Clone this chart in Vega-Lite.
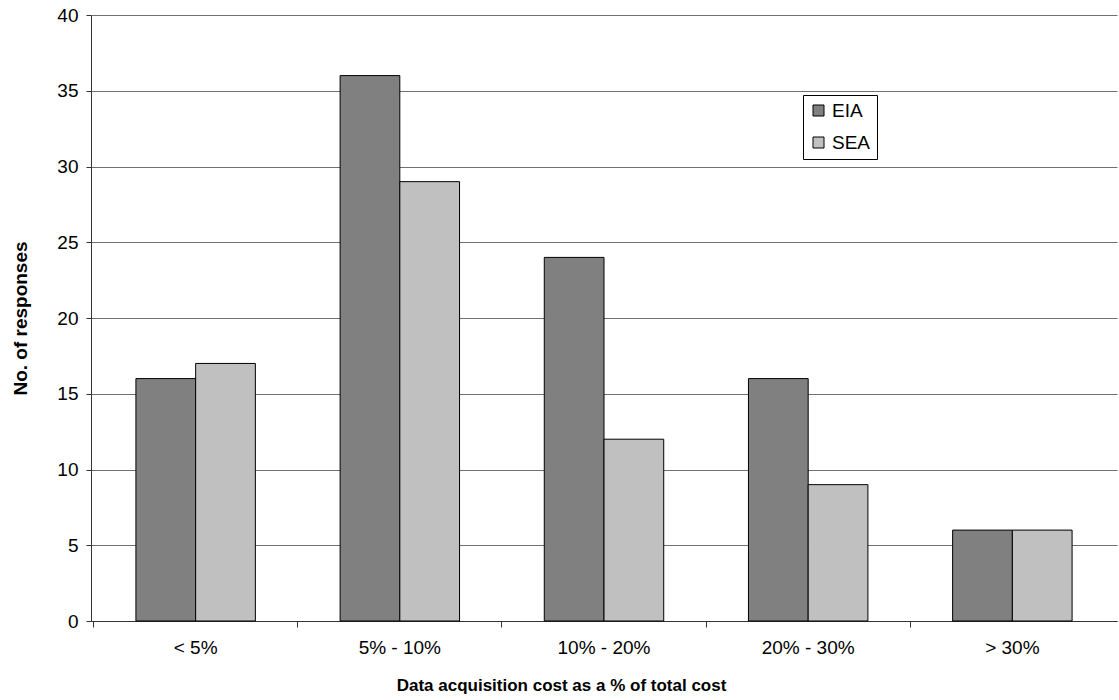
{
  "$schema": "https://vega.github.io/schema/vega-lite/v6.json",
  "autosize": "none",
  "width": 1026,
  "height": 606,
  "padding": {"left": 91, "top": 15, "right": 2, "bottom": 79},
  "background": "white",
  "config": {
    "font": "Liberation Sans",
    "view": {"stroke": null}
  },
  "data": {
    "values": [
      {"cost": "< 5%", "type": "EIA", "n": 16},
      {"cost": "< 5%", "type": "SEA", "n": 17},
      {"cost": "5% - 10%", "type": "EIA", "n": 36},
      {"cost": "5% - 10%", "type": "SEA", "n": 29},
      {"cost": "10% - 20%", "type": "EIA", "n": 24},
      {"cost": "10% - 20%", "type": "SEA", "n": 12},
      {"cost": "20% - 30%", "type": "EIA", "n": 16},
      {"cost": "20% - 30%", "type": "SEA", "n": 9},
      {"cost": "> 30%", "type": "EIA", "n": 6},
      {"cost": "> 30%", "type": "SEA", "n": 6}
    ]
  },
  "mark": {"type": "bar", "stroke": "black", "strokeWidth": 1},
  "encoding": {
    "x": {
      "field": "cost",
      "type": "nominal",
      "sort": null,
      "scale": {"paddingInner": 0.415, "paddingOuter": 0.22},
      "axis": {
        "title": "Data acquisition cost as a % of total cost",
        "titleFontSize": 17,
        "titleFontWeight": "bold",
        "titleColor": "black",
        "titlePadding": 20,
        "titleX": 470,
        "titleAlign": "center",
        "labelAngle": 0,
        "labelFontSize": 19,
        "labelColor": "black",
        "labelPadding": 11,
        "bandPosition": -0.354,
        "domainColor": "#333333",
        "tickColor": "#333333",
        "tickSize": 6,
        "grid": false
      }
    },
    "xOffset": {"field": "type", "type": "nominal", "scale": {"paddingInner": 0, "paddingOuter": 0}},
    "y": {
      "field": "n",
      "type": "quantitative",
      "scale": {"domain": [0, 40], "nice": false},
      "axis": {
        "title": "No. of responses",
        "titleFontSize": 19,
        "titleFontWeight": "bold",
        "titleColor": "black",
        "titlePadding": 26,
        "values": [0, 5, 10, 15, 20, 25, 30, 35, 40],
        "labelFontSize": 19,
        "labelColor": "black",
        "labelPadding": 8,
        "tickSize": 5,
        "tickColor": "#333333",
        "domainColor": "#333333",
        "grid": true,
        "gridColor": "#707070",
        "gridOpacity": 1,
        "gridWidth": 1
      }
    },
    "color": {
      "field": "type",
      "type": "nominal",
      "scale": {"domain": ["EIA", "SEA"], "range": ["#808080", "#c0c0c0"]},
      "legend": {
        "title": null,
        "orient": "none",
        "legendX": 712,
        "legendY": 80,
        "symbolType": "square",
        "symbolSize": 121,
        "symbolStrokeColor": "black",
        "symbolStrokeWidth": 1,
        "labelFontSize": 19,
        "labelColor": "black",
        "rowPadding": 12,
        "padding": 6,
        "strokeColor": "black",
        "fillColor": "white",
        "labelOffset": 4
      }
    }
  }
}
